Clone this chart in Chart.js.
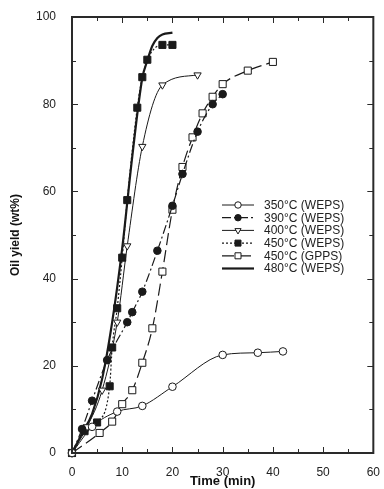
<!DOCTYPE html>
<html lang="en">
<head>
    <meta charset="UTF-8">
    <title>Oil yield vs time</title>
    <script src="https://cdn.jsdelivr.net/npm/chart.js@4.4.0/dist/chart.umd.min.js"></script>
    <style>
        html, body { margin: 0; padding: 0; background: #fff; }
        #wrap { width: 384px; height: 489px; }
    </style>
</head>
<body>
<div id="wrap"><canvas id="myChart" width="384" height="489"></canvas></div>
<script>
// time (min) and oil yield (wt%) for each run
var time350 = [0, 4, 9, 14, 20, 30, 37, 42]
var yield350 = [0, 6, 9.5, 10.8, 15.2, 22.5, 23, 23.3]

var time390 = [0, 2, 4, 7, 11, 12, 14, 17, 20, 22, 25, 28, 30]
var yield390 = [0, 5.5, 12, 21.3, 30, 32.3, 37, 46.4, 56.7, 64, 73.7, 80, 82.3]

var time400 = [0, 3, 6, 9, 11, 14, 18, 25]
var yield400 = [0, 6, 14.4, 30, 47.5, 70.3, 84.4, 86.7]

var time450 = [0, 2.5, 5, 7.5, 8, 9, 10, 11, 13, 14, 15, 18, 20]
var yield450 = [0, 5, 7, 15.3, 24.2, 33.2, 44.8, 58, 79.2, 86.2, 90.2, 93.6, 93.6]

var time450g = [0, 5.5, 8, 10, 12, 14, 16, 18, 20, 22, 24, 26, 28, 30, 35, 40]
var yield450g = [0, 4.6, 7.2, 11.2, 14.4, 20.7, 28.6, 41.6, 55.8, 65.6, 72.4, 77.9, 81.7, 84.6, 87.7, 89.7]

var time480 = [0, 2, 4, 6, 8, 10, 12, 14, 15, 16, 17, 18, 20]
var yield480 = [0, 4.5, 9, 17, 30, 47, 68, 86, 90, 93.4, 95.2, 96, 96.4]

var seriesLabels = ['350\u00B0C (WEPS)', '390\u00B0C (WEPS)', '400\u00B0C (WEPS)',
                    '450\u00B0C (WEPS)', '450\u00B0C (GPPS)', '480\u00B0C (WEPS)']

function pts(xs, ys) {
    return xs.map(function(x, i) { return {x: x, y: ys[i]} })
}

var ink = '#1a1a1a'

var datasets = [
    {label: seriesLabels[0], data: pts(time350, yield350), borderColor: ink, borderWidth: 1,
     pointStyle: 'circle', pointRadius: 3.8, pointBackgroundColor: '#fff', pointBorderColor: ink, pointBorderWidth: 1},
    {label: seriesLabels[1], data: pts(time390, yield390), borderColor: ink, borderWidth: 1.2, borderDash: [9, 3, 2, 3],
     pointStyle: 'circle', pointRadius: 3.8, pointBackgroundColor: ink, pointBorderColor: ink, pointBorderWidth: 1},
    {label: seriesLabels[2], data: pts(time400, yield400), borderColor: ink, borderWidth: 1,
     pointStyle: 'triangle', pointRotation: 180, pointRadius: 4.2, pointBackgroundColor: '#fff', pointBorderColor: ink, pointBorderWidth: 1},
    {label: seriesLabels[3], data: pts(time450, yield450), borderColor: ink, borderWidth: 1.2, borderDash: [2, 2],
     pointStyle: 'rect', pointRadius: 5, pointBackgroundColor: ink, pointBorderColor: ink, pointBorderWidth: 1},
    {label: seriesLabels[4], data: pts(time450g, yield450g), borderColor: ink, borderWidth: 1.2, borderDash: [12, 5],
     pointStyle: 'rect', pointRadius: 5, pointBackgroundColor: '#fff', pointBorderColor: ink, pointBorderWidth: 1},
    {label: seriesLabels[5], data: pts(time480, yield480), borderColor: ink, borderWidth: 2.2,
     pointRadius: 0, pointStyle: false}
]
datasets.forEach(function(d) {
    d.fill = false
    d.cubicInterpolationMode = 'monotone'
    d.clip = false
    d.pointHoverRadius = d.pointRadius
})

// frame, inward tick marks and the legend box
var framePlugin = {
    id: 'frame',
    afterDraw: function(chart) {
        var ctx = chart.ctx
        var a = chart.chartArea
        var xs = chart.scales.x, ys = chart.scales.y
        ctx.save()
        ctx.strokeStyle = '#2a2a2a'
        ctx.lineWidth = 2
        ctx.strokeRect(a.left, a.top, a.right - a.left, a.bottom - a.top)
        ctx.lineWidth = 1
        ctx.beginPath()
        for (var t = 5; t < 60; t += 5) {
            var px = Math.round(xs.getPixelForValue(t)) + 0.5
            var len = t % 10 === 0 ? 6 : 4
            ctx.moveTo(px, a.bottom); ctx.lineTo(px, a.bottom - len)
            ctx.moveTo(px, a.top); ctx.lineTo(px, a.top + len)
        }
        for (var v = 10; v < 100; v += 10) {
            var py = Math.round(ys.getPixelForValue(v)) + 0.5
            var l2 = v % 20 === 0 ? 6 : 4
            ctx.moveTo(a.left, py); ctx.lineTo(a.left + l2, py)
            ctx.moveTo(a.right, py); ctx.lineTo(a.right - l2, py)
        }
        ctx.stroke()

        // legend
        var lx = a.left + 150, ly = a.top + 188, row = 12.7
        ctx.font = '12px "Liberation Sans", Arial, sans-serif'
        ctx.textBaseline = 'middle'
        ctx.fillStyle = '#222'
        chart.data.datasets.forEach(function(d, i) {
            var y = ly + i * row
            ctx.save()
            ctx.strokeStyle = d.borderColor
            ctx.lineWidth = d.borderWidth
            ctx.setLineDash(d.borderDash || [])
            ctx.beginPath()
            ctx.moveTo(lx, y); ctx.lineTo(lx + 32, y)
            ctx.stroke()
            ctx.restore()
            if (d.pointRadius > 0) {
                ctx.save()
                ctx.fillStyle = d.pointBackgroundColor
                ctx.strokeStyle = d.pointBorderColor
                ctx.lineWidth = 1
                Chart.helpers.drawPoint(ctx, {pointStyle: d.pointStyle, rotation: d.pointRotation || 0,
                    radius: d.pointRadius * 0.85, borderWidth: 1}, lx + 16, y)
                ctx.restore()
            }
            ctx.fillText(d.label, lx + 42, y + 0.5)
        })
        ctx.restore()
    }
}

var ctx = document.getElementById('myChart').getContext('2d')
var chart = new Chart(ctx, {
    type: 'line',
    data: { datasets: datasets },
    options: {
        responsive: false,
        animation: false,
        events: [],
        layout: { padding: { top: 17, right: 8, left: 0, bottom: 0 } },
        plugins: { legend: { display: false }, tooltip: { enabled: false } },
        scales: {
            x: {
                type: 'linear', min: 0, max: 60,
                grid: { display: false },
                border: { display: false },
                ticks: { stepSize: 10, padding: 4, color: '#222',
                         font: { family: '"Liberation Sans", Arial, sans-serif', size: 12 } },
                title: { display: true, text: 'Time (min)', color: '#111', padding: { top: 0, bottom: 0 },
                         font: { family: '"Liberation Sans", Arial, sans-serif', size: 13, weight: 'bold' } },
                afterFit: function(s) { s.height = 36 }
            },
            y: {
                type: 'linear', min: 0, max: 100,
                grid: { display: false },
                border: { display: false },
                ticks: { stepSize: 20, padding: 8, color: '#222',
                         font: { family: '"Liberation Sans", Arial, sans-serif', size: 12 } },
                title: { display: true, text: 'Oil yield (wt%)', color: '#111', padding: { top: 8, bottom: 0 },
                         font: { family: '"Liberation Sans", Arial, sans-serif', size: 12, weight: 'bold' } },
                afterFit: function(s) { s.width = 72 }
            }
        }
    },
    plugins: [framePlugin]
})
</script>
</body>
</html>
